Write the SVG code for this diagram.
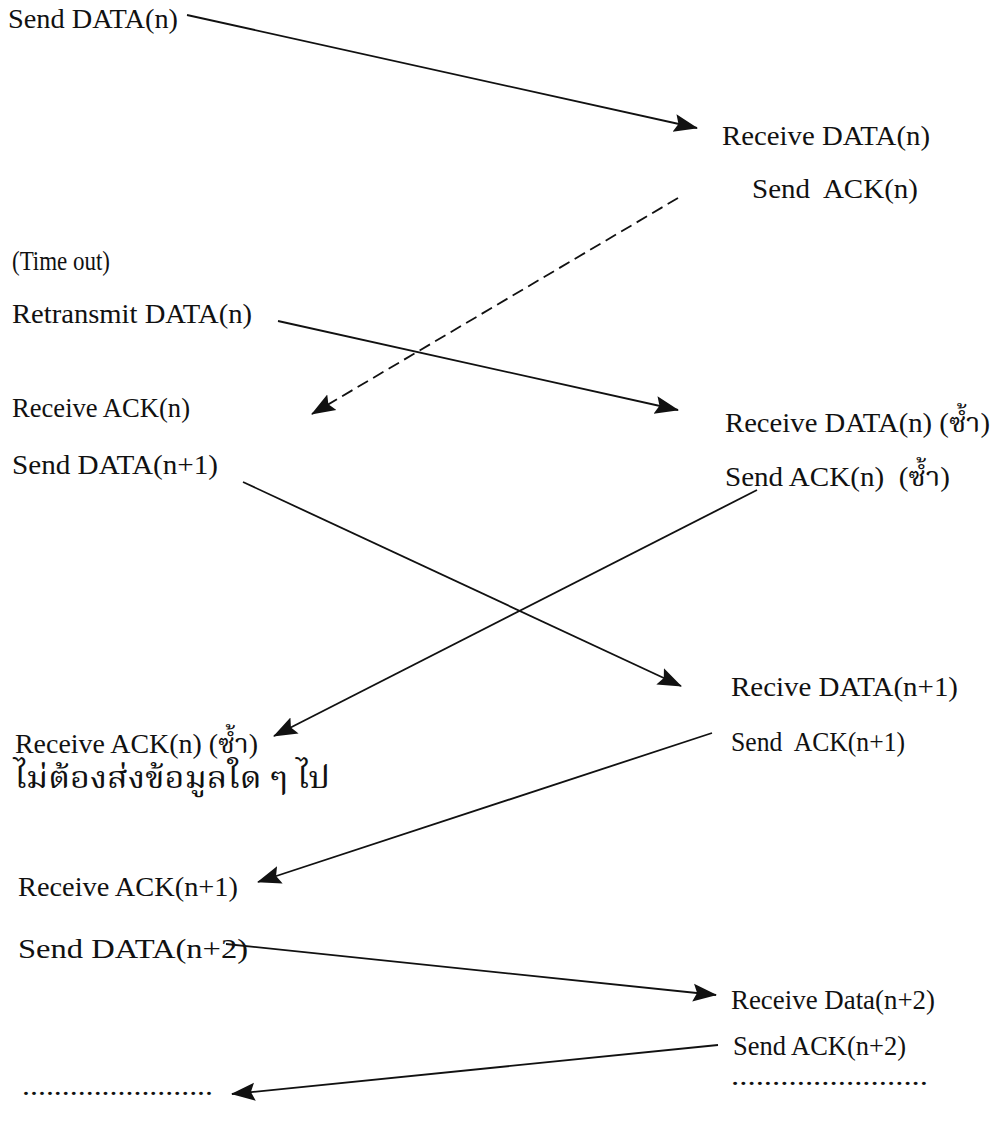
<svg xmlns="http://www.w3.org/2000/svg" width="995" height="1130" viewBox="0 0 995 1130">
<style>
text{font-family:"Liberation Serif","Times New Roman","Noto Serif Thai","Noto Sans Thai",Loma,Garuda,serif;font-size:27.5px;fill:#111;}
.th{font-size:30px;}
.c{stroke:#111;stroke-width:1.8;fill:none;}
.d{stroke-dasharray:12 6;}
</style>
<defs>
<marker id="ah" markerUnits="userSpaceOnUse" markerWidth="24" markerHeight="20" viewBox="0 0 24 20" refX="23" refY="10" orient="auto">
<path d="M0,1 L24,10 L0,19 L4,10 z" fill="#111"/>
</marker>
</defs>
<rect width="995" height="1130" fill="#fff"/>
<g id="connectors">
<line class="c" x1="187" y1="15" x2="697" y2="128" marker-end="url(#ah)"/>
<line class="c d" x1="678" y1="198" x2="312" y2="414" marker-end="url(#ah)"/>
<line class="c" x1="278" y1="321" x2="678" y2="410" marker-end="url(#ah)"/>
<line class="c" x1="243" y1="482" x2="681" y2="686" marker-end="url(#ah)"/>
<line class="c" x1="757" y1="490" x2="274" y2="736" marker-end="url(#ah)"/>
<line class="c" x1="712" y1="733" x2="258" y2="882" marker-end="url(#ah)"/>
<line class="c" x1="226" y1="944" x2="716" y2="995" marker-end="url(#ah)"/>
<line class="c" x1="718" y1="1045" x2="232" y2="1094" marker-end="url(#ah)"/>
</g>
<g id="n1"><text x="8" y="28" textLength="170" lengthAdjust="spacingAndGlyphs">Send DATA(n)</text></g>
<g id="n2"><text x="722" y="145" textLength="208" lengthAdjust="spacingAndGlyphs">Receive DATA(n)</text></g>
<g id="n3"><text x="752" y="198" textLength="166" lengthAdjust="spacingAndGlyphs" xml:space="preserve">Send  ACK(n)</text></g>
<g id="n4"><text x="12" y="270" textLength="98" lengthAdjust="spacingAndGlyphs">(Time out)</text></g>
<g id="n5"><text x="12" y="323" textLength="240" lengthAdjust="spacingAndGlyphs">Retransmit DATA(n)</text></g>
<g id="n6"><text x="12" y="417" textLength="178" lengthAdjust="spacingAndGlyphs">Receive ACK(n)</text></g>
<g id="n7"><text x="725" y="432" textLength="265" lengthAdjust="spacingAndGlyphs">Receive DATA(n) (ซ้ำ)</text></g>
<g id="n8"><text x="725" y="486" textLength="225" lengthAdjust="spacingAndGlyphs" xml:space="preserve">Send ACK(n)  (ซ้ำ)</text></g>
<g id="n9"><text x="12" y="474" textLength="206" lengthAdjust="spacingAndGlyphs">Send DATA(n+1)</text></g>
<g id="n10"><text x="15" y="753" textLength="243" lengthAdjust="spacingAndGlyphs">Receive ACK(n) (ซ้ำ)</text>
<text class="th" x="14" y="788" textLength="316" lengthAdjust="spacingAndGlyphs">ไม่ต้องส่งข้อมูลใด ๆ ไป</text></g>
<g id="n11"><text x="731" y="696" textLength="227" lengthAdjust="spacingAndGlyphs">Recive DATA(n+1)</text></g>
<g id="n12"><text x="731" y="751" textLength="174" lengthAdjust="spacingAndGlyphs" xml:space="preserve">Send  ACK(n+1)</text></g>
<g id="n13"><text x="18" y="896" textLength="220" lengthAdjust="spacingAndGlyphs">Receive ACK(n+1)</text></g>
<g id="n14"><text x="18" y="958" textLength="230" lengthAdjust="spacingAndGlyphs">Send DATA(n+2)</text></g>
<g id="n15"><text x="731" y="1009" textLength="204" lengthAdjust="spacingAndGlyphs">Receive Data(n+2)</text></g>
<g id="n16"><text x="733" y="1055" textLength="173" lengthAdjust="spacingAndGlyphs">Send ACK(n+2)</text></g>
<g id="n17"><text x="22" y="1095" textLength="191" lengthAdjust="spacingAndGlyphs">........................</text></g>
<g id="n18"><text x="731" y="1085" textLength="197" lengthAdjust="spacingAndGlyphs">........................</text></g>
</svg>
